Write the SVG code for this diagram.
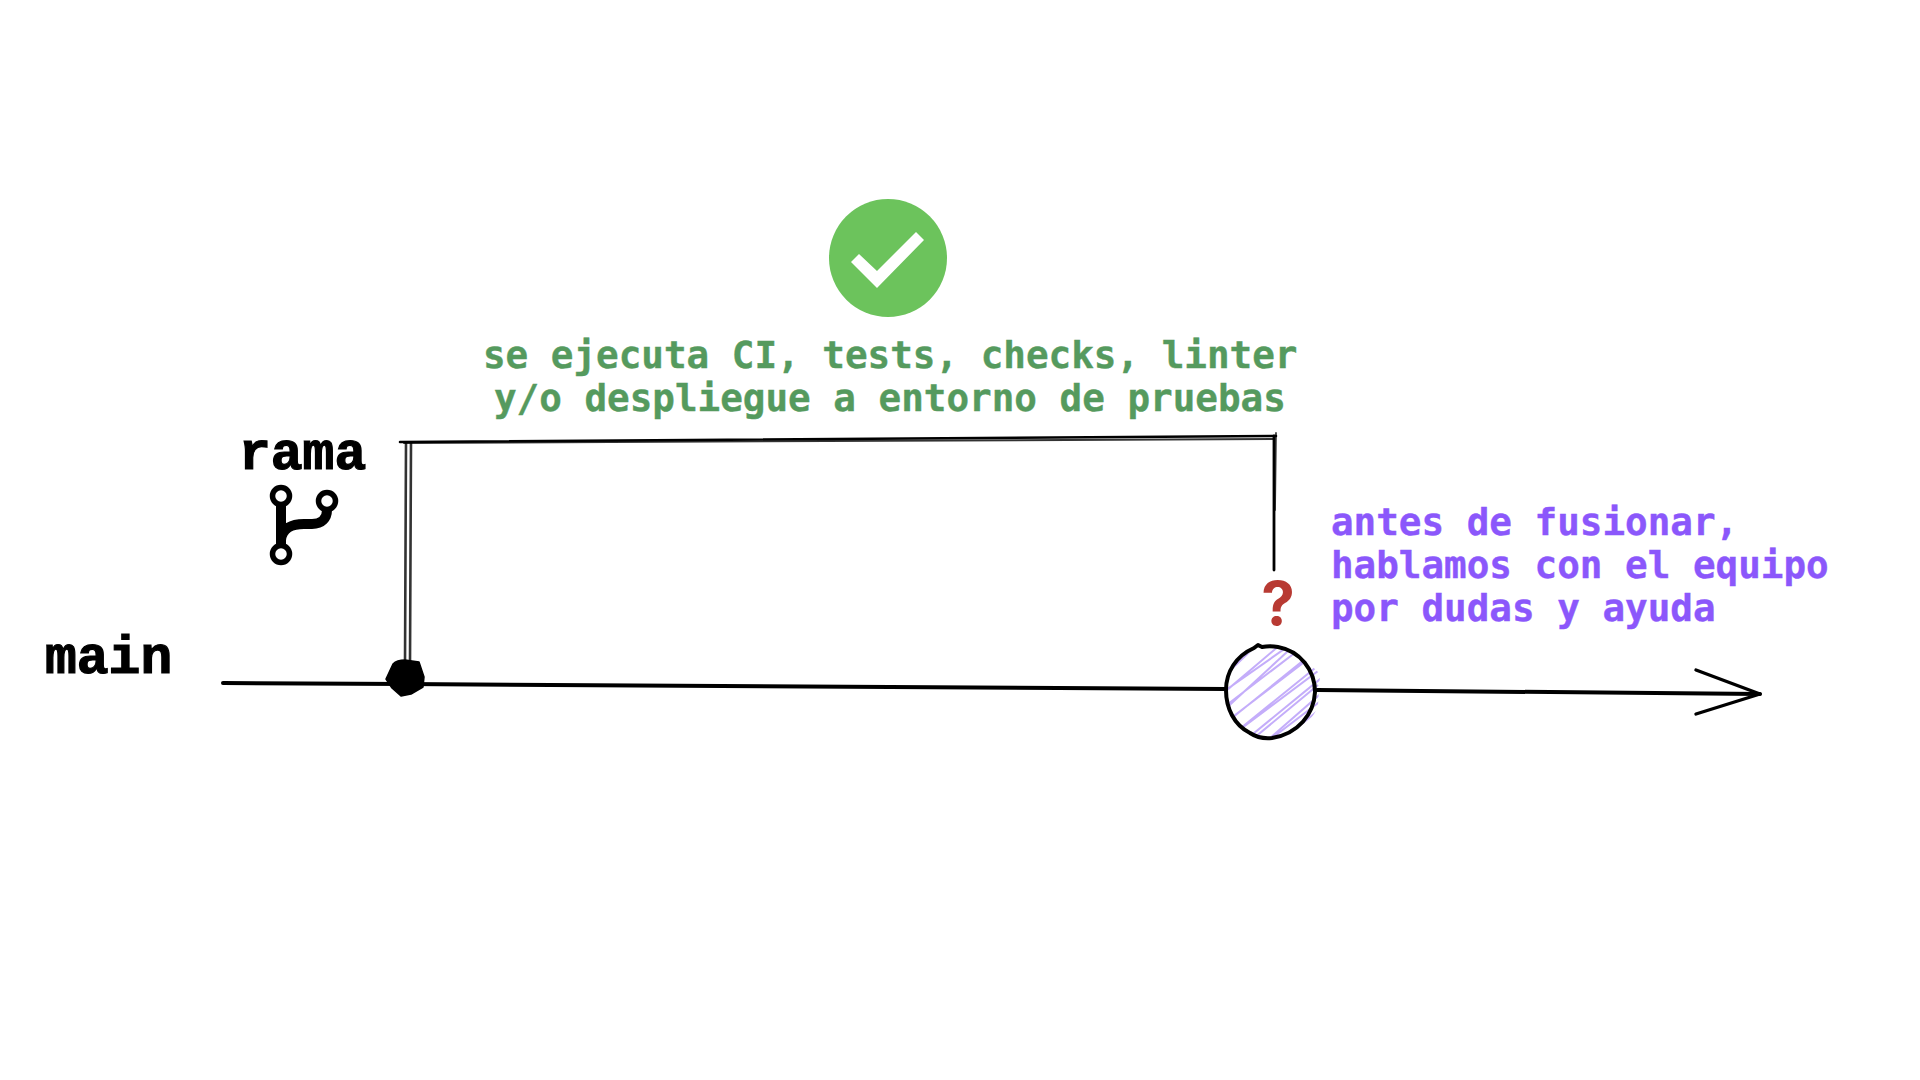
<svg xmlns="http://www.w3.org/2000/svg" width="1920" height="1080" viewBox="0 0 1920 1080">
<style>
.label{font-family:"Liberation Mono",monospace;font-weight:700;font-size:53px;fill:#000;stroke:#000;stroke-width:1.2px}
.note{font-family:"DejaVu Sans Mono",monospace;font-weight:700;font-size:37.6px;stroke-width:.4px}
.ink{fill:none;stroke:#000;stroke-linecap:round;stroke-linejoin:round}
.hatch{fill:none;stroke:#8a5cf6;stroke-width:2;stroke-opacity:.5}
</style>
<rect width="1920" height="1080" fill="#fff"/>
<defs><clipPath id="hc"><path d="M1226 682C1232 660 1250 648 1272 647C1292 647 1308 662 1320 674L1318 705C1312 725 1290 738 1264 738C1240 730 1226 712 1226 682Z"/></clipPath></defs>
<g id="connectors">
<path class="ink" stroke-width="4" d="M223 683L405 684L1226 689M1317 690L1760 694"/>
<path class="ink" stroke-width="3.4" d="M1696 670L1760 694L1696 714"/>
<path class="ink" stroke-width="2.6" d="M400 442L1276 436"/>
<path class="ink" stroke-width="2" d="M404 443L1274 439" stroke-opacity=".8"/>
<path class="ink" stroke-width="2.6" d="M406 443L405 665M411 443L410 665" stroke-opacity=".8"/>
<path class="ink" stroke-width="2.8" d="M1274 436L1274 570"/>
<path class="ink" stroke-width="1.8" d="M1276 433L1275 510" stroke-opacity=".75"/>
</g>
<g id="main-label"><text class="label" x="45" y="673">main</text></g>
<g id="rama-label"><text class="label" x="239" y="469">rama</text></g>
<g id="branch-icon" fill="none" stroke="#000">
<circle cx="281" cy="496" r="8.5" stroke-width="5.5"/>
<circle cx="327" cy="501" r="8.5" stroke-width="5.5"/>
<circle cx="281" cy="554" r="8.5" stroke-width="5.5"/>
<path stroke-width="10" d="M281 505V545M281 540C282 528 292 524 304 524H312C322 524 327 518 327 510"/>
</g>
<g id="start-node"><path d="M393 664C397 660 402 660 405 660L419 662L424 677L423 687L411 694L401 696L392 688L386 679Z" fill="#000" stroke="#000" stroke-width="1.5" stroke-linejoin="round"/></g>
<g id="merge-node">
<g clip-path="url(#hc)">
<path class="hatch" d="M1220 680L1262 640M1220 696L1280 645M1222 712L1300 640M1226 722L1320 650M1236 732L1325 660M1248 738L1325 675M1262 745L1325 690M1276 745L1325 705M1226 690L1290 645M1232 718L1310 655M1254 738L1318 685M1272 738L1322 700M1228 704L1296 652M1242 728L1322 668"/>
</g>
<path class="ink" stroke-width="4" d="M1254 648L1258 645L1262 647C1268 646 1272 646 1278 647C1300 651 1315 670 1315 692C1314 714 1298 734 1272 738C1262 739 1256 737 1250 733C1234 725 1226 708 1226 690C1226 672 1236 656 1254 648Z"/>
</g>
<g id="check-node">
<circle cx="888" cy="258" r="59" fill="#6cc35c"/>
<path fill="#fff" d="M851 262L859 254L877 271L916 232L924 240L877 288Z"/>
</g>
<g id="ci-note">
<text class="note" x="483" y="368" fill="#559a5e" stroke="#559a5e">se ejecuta CI, tests, checks, linter</text>
<text class="note" x="494" y="411" fill="#559a5e" stroke="#559a5e">y/o despliegue a entorno de pruebas</text>
</g>
<g id="question"><text x="1278" y="625" font-family="Inter,sans-serif" font-weight="700" font-size="60" fill="#b83a33" text-anchor="middle">?</text></g>
<g id="team-note">
<text class="note" x="1331" y="535" fill="#8b57fb" stroke="#8b57fb">antes de fusionar,</text>
<text class="note" x="1331" y="578" fill="#8b57fb" stroke="#8b57fb">hablamos con el equipo</text>
<text class="note" x="1331" y="621" fill="#8b57fb" stroke="#8b57fb">por dudas y ayuda</text>
</g>
</svg>
